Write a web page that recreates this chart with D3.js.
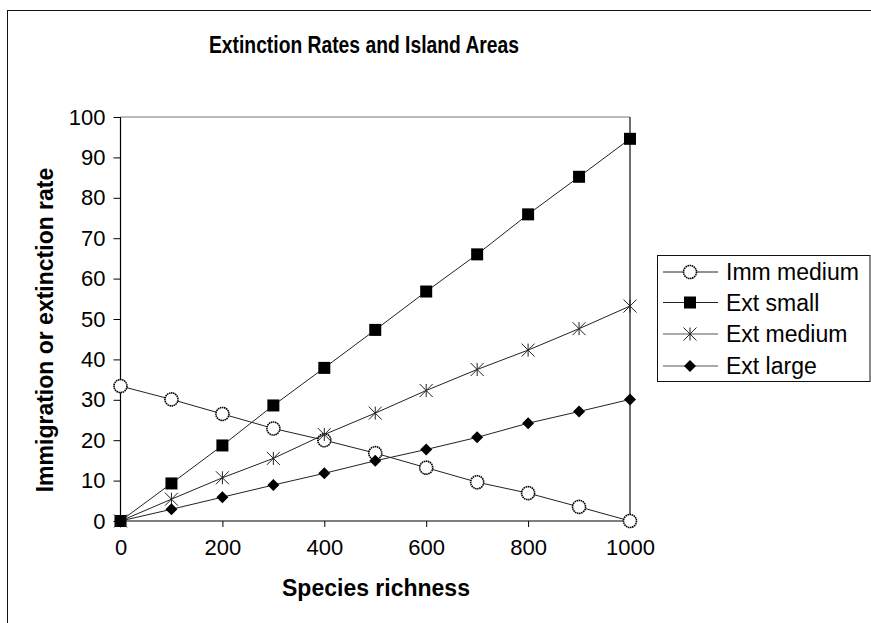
<!DOCTYPE html>
<html>
<head>
<meta charset="utf-8">
<script src="https://cdn.jsdelivr.net/npm/d3@7"></script>
<style>
  html, body { margin: 0; padding: 0; background: #fff; }
  svg { display: block; font-family: "Liberation Sans", Arial, sans-serif; }
</style>
</head>
<body>
<svg id="chart" width="871" height="623"></svg>
<script>
// Species richness (x) and rates for each series
const richness = [0, 100, 200, 300, 400, 500, 600, 700, 800, 900, 1000];
const immMedium = [33.4, 30.1, 26.5, 22.9, 20.0, 16.8, 13.2, 9.6, 6.9, 3.5, 0];
const extSmall = [0, 9.3, 18.7, 28.6, 37.9, 47.3, 56.8, 66.0, 75.9, 85.2, 94.6];
const extMedium = [0, 5.4, 10.7, 15.5, 21.4, 26.7, 32.3, 37.5, 42.3, 47.6, 53.2];
const extLarge = [0, 2.9, 5.9, 8.9, 11.8, 14.9, 17.7, 20.7, 24.2, 27.1, 30.1];
const seriesNames = ["Imm medium", "Ext small", "Ext medium", "Ext large"];
const seriesMarkers = ["circle", "square", "asterisk", "diamond"];
const yTicks = [0, 10, 20, 30, 40, 50, 60, 70, 80, 90, 100];
const xTicks = [0, 200, 400, 600, 800, 1000];

const series = [immMedium, extSmall, extMedium, extLarge].map((vals, i) => ({
  name: seriesNames[i],
  marker: seriesMarkers[i],
  points: richness.map((r, j) => ({ x: r, y: vals[j] }))
}));

const svg = d3.select("#chart");
const plot = { left: 120.5, right: 630, top: 117, bottom: 521 };

const x = d3.scaleLinear().domain([0, 1000]).range([plot.left, plot.right]);
const y = d3.scaleLinear().domain([0, 100]).range([plot.bottom, plot.top]);

// Chart frame
svg.append("rect")
  .attr("x", 7.5).attr("y", 10.5)
  .attr("width", 900).attr("height", 700)
  .attr("fill", "none").attr("stroke", "#111").attr("stroke-width", 1);

// Title (condensed bold)
svg.append("text")
  .attr("x", 364).attr("y", 53)
  .attr("text-anchor", "middle")
  .attr("font-size", 23).attr("font-weight", "bold")
  .attr("textLength", 310).attr("lengthAdjust", "spacingAndGlyphs")
  .text("Extinction Rates and Island Areas");

// Plot area border (top and right)
svg.append("path")
  .attr("d", `M${plot.left},${plot.top}H${plot.right}V${plot.bottom}`)
  .attr("fill", "none").attr("stroke", "#777").attr("stroke-width", 1);
svg.append("line")
  .attr("x1", plot.right).attr("x2", plot.right)
  .attr("y1", plot.top).attr("y2", plot.bottom)
  .attr("stroke", "#222").attr("stroke-width", 1);

// Axes
const yAxis = d3.axisLeft(y).tickValues(yTicks).tickSize(7).tickPadding(8)
  .tickFormat(d3.format("d"));
const xAxis = d3.axisBottom(x).tickValues(xTicks).tickSize(6).tickPadding(11)
  .tickFormat(d3.format("d"));

const gy = svg.append("g").attr("transform", `translate(${plot.left},0)`).call(yAxis);
const gx = svg.append("g").attr("transform", `translate(0,${plot.bottom})`).call(xAxis);
[gx, gy].forEach(g => {
  g.select(".domain").attr("stroke", "#000").attr("stroke-width", 1.2);
  g.selectAll(".tick line").attr("stroke", "#000");
  g.selectAll(".tick text")
    .attr("font-family", "Liberation Sans, Arial, sans-serif")
    .attr("font-size", 22).attr("fill", "#000");
});
gy.select(".domain").attr("d", `M0,${plot.top}V${plot.bottom}`);
gx.select(".domain").attr("d", `M${plot.left},0H${plot.right}`);
gx.selectAll(".tick text").attr("dy", "0.75em");

// Axis titles
svg.append("text")
  .attr("x", 376).attr("y", 596)
  .attr("text-anchor", "middle")
  .attr("font-size", 23).attr("font-weight", "bold")
  .text("Species richness");
svg.append("text")
  .attr("transform", "translate(53,330) rotate(-90)")
  .attr("text-anchor", "middle")
  .attr("font-size", 23).attr("font-weight", "bold")
  .text("Immigration or extinction rate");

// Marker drawing
function drawMarker(g, type) {
  if (type === "circle") {
    g.append("circle").attr("r", 6.5)
      .attr("fill", "#fff").attr("stroke", "#000").attr("stroke-width", 1.6)
      .attr("stroke-dasharray", "1.5,0.6");
  } else if (type === "square") {
    g.append("rect").attr("x", -6).attr("y", -6).attr("width", 12).attr("height", 12)
      .attr("fill", "#000");
  } else if (type === "asterisk") {
    const s = 6.5;
    g.append("path")
      .attr("d", `M${-s},${-s}L${s},${s}M${-s},${s}L${s},${-s}M0,${-s}V${s}`)
      .attr("stroke", "#222").attr("stroke-width", 1).attr("fill", "none");
  } else if (type === "diamond") {
    const s = 6;
    g.append("path")
      .attr("d", `M0,${-s}L${s},0L0,${s}L${-s},0Z`)
      .attr("fill", "#000");
  }
}

const line = d3.line().x(d => x(d.x)).y(d => y(d.y));

series.forEach(s => {
  const g = svg.append("g");
  g.append("path").datum(s.points)
    .attr("d", line)
    .attr("fill", "none").attr("stroke", "#222").attr("stroke-width", 1);
  s.points.forEach(p => {
    const m = g.append("g").attr("transform", `translate(${x(p.x)},${y(p.y)})`);
    drawMarker(m, s.marker);
  });
});

// Legend
const legend = svg.append("g");
legend.append("rect")
  .attr("x", 657.5).attr("y", 255.5)
  .attr("width", 212.5).attr("height", 126)
  .attr("fill", "#fff").attr("stroke", "#111").attr("stroke-width", 1);
const rowY = [272, 302.5, 334, 366];
series.forEach((s, i) => {
  const row = legend.append("g").attr("transform", `translate(0,${rowY[i]})`);
  row.append("line").attr("x1", 663).attr("x2", 718).attr("y1", 0).attr("y2", 0)
    .attr("stroke", i < 2 ? "#222" : "#555").attr("stroke-width", 1);
  const m = row.append("g").attr("transform", "translate(690,0)");
  drawMarker(m, s.marker);
  row.append("text").attr("x", 726).attr("y", 0).attr("dy", "0.35em")
    .attr("font-size", 23).text(s.name);
});
</script>
</body>
</html>
